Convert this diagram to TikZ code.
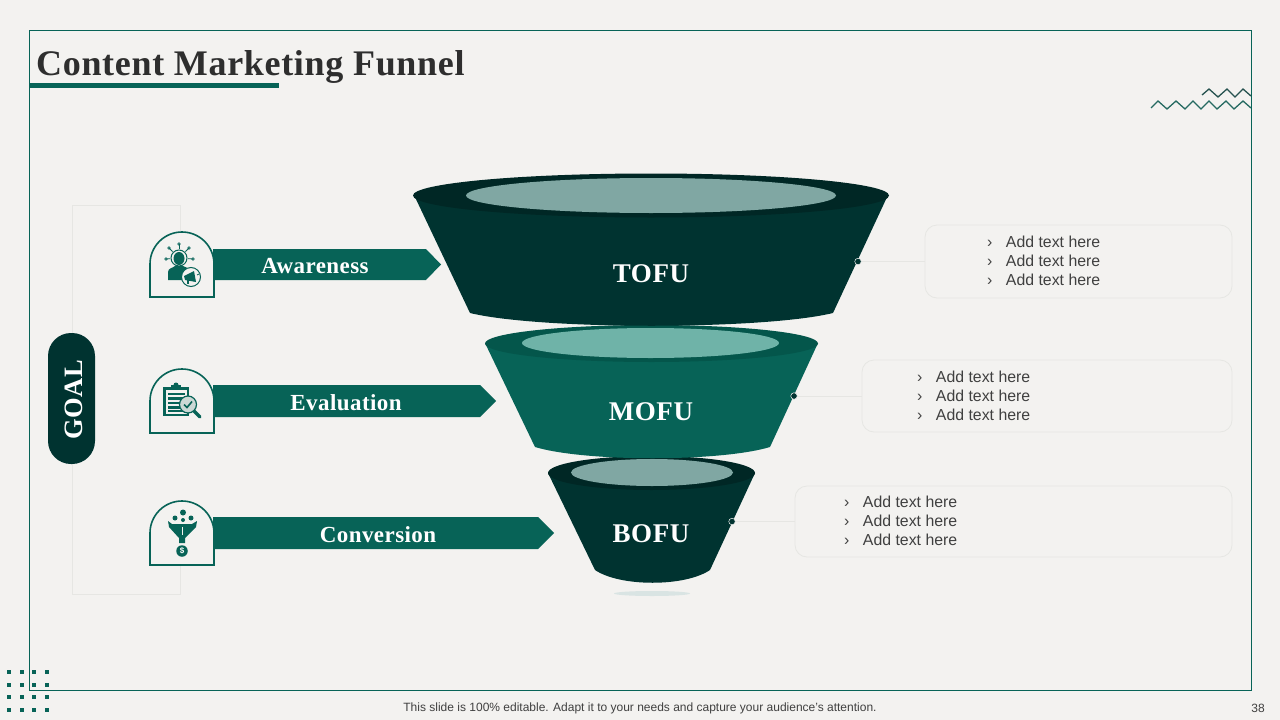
\documentclass[tikz,border=0pt]{standalone}
\usepackage{fontspec}
\setmainfont{Liberation Sans}
\newfontfamily\headfont[LetterSpace=1.9]{Liberation Serif}
\usetikzlibrary{positioning, calc}

\definecolor{pagebg}{HTML}{F3F2F0}
\definecolor{deepgreen}{HTML}{003330}
\definecolor{ringdark}{HTML}{002725}
\definecolor{midgreen}{HTML}{076357}
\definecolor{ringmid}{HTML}{04564B}
\definecolor{palegreen}{HTML}{80A7A3}
\definecolor{palemid}{HTML}{6FB3A8}
\definecolor{softline}{HTML}{E6E6E3}
\definecolor{bodytext}{HTML}{404040}

\tikzset{
  banner/.style={fill=midgreen, draw=none},
  bannertext/.style={text=white, font=\headfont\bfseries\fontsize{23}{25}\selectfont},
  funneltext/.style={text=white, font=\headfont\bfseries\fontsize{27}{29}\selectfont},
  arch/.style={draw=midgreen, line width=1.6pt, fill=pagebg},
  textbox/.style={draw=softline, line width=0.8pt, rounded corners=12pt, inner sep=0pt},
  listtext/.style={text=bodytext, align=left, inner sep=0pt, anchor=west, font=\fontsize{15.85}{19}\selectfont},
  leader/.style={draw=softline, line width=0.8pt},
  dotnode/.style={circle, fill=deepgreen, draw=pagebg, line width=0.5pt, minimum size=6.5pt, inner sep=0pt},
  iconline/.style={draw=midgreen, line width=1pt}
}

\newcommand{\addlines}[1]{#1\hspace{13.5pt}Add text here\\#1\hspace{13.5pt}Add text here\\#1\hspace{13.5pt}Add text here}

\begin{document}
\begin{tikzpicture}[x=1pt, y=-1pt]
\useasboundingbox[fill=pagebg] (0,0) rectangle (1280,720);

% frame and title
\draw[midgreen, line width=1pt] (29.5,30) rectangle (1251,690);
\node (title) at (36,67) [anchor=west, inner sep=0pt, text=black!82, font=\headfont\bfseries\fontsize{36}{38}\selectfont] {Content Marketing Funnel};
\fill[midgreen] (29.5,83) rectangle (279,87.5);

% corner marks
\draw[line width=1.3pt, draw=deepgreen!85] (1202,95) -- (1209,89) -- (1218,97) -- (1227,89) -- (1235,97) -- (1243,89) -- (1251,96);
\draw[line width=1.3pt, draw=midgreen!75!gray] (1151,108) -- (1158,101) -- (1167,109) -- (1176,101) -- (1185,109) -- (1193,101) -- (1201,109) -- (1209,101) -- (1217,109) -- (1226,101) -- (1234,109) -- (1243,101) -- (1251,108);
\foreach \x in {9,22,34,47}
  \foreach \y in {672,685,697,710}
    \fill[midgreen] (\x-2.3,\y-2.3) rectangle (\x+2.3,\y+2.3);

% goal bracket
\draw[leader] (180,232) -- (180,205) -- (72,205) -- (72,594) -- (180,594) -- (180,565);
\node (goal) at (71.5,398.5) [fill=deepgreen, rounded corners=23pt, minimum width=47pt, minimum height=131pt, inner sep=0pt] {};
\node at (73.5,399.5) [rotate=90, bannertext, font=\headfont\bfseries\fontsize{26.5}{29}\selectfont] {GOAL};

% bottom funnel
\fill[palegreen!30] (652,593.5) ellipse (38 and 2.5);
\fill[deepgreen] (548,473) -- (595,570) .. controls (620,587) and (685,587) .. (710,570) -- (755,473) -- cycle;
\fill[ringdark] (651.5,473) ellipse (103.5 and 17);
\fill[palegreen] (652,472.5) ellipse (81 and 13.5);
\node (bofu) at (651,534) [funneltext] {BOFU};

% middle funnel
\fill[midgreen] (485,343) -- (535,447) .. controls (585,462) and (720,462) .. (770,447) -- (818,343) -- cycle;
\fill[ringmid] (651.5,343.5) ellipse (166.5 and 18.5);
\fill[palemid] (650.5,343) ellipse (128.5 and 15);
\node (mofu) at (651,412) [funneltext] {MOFU};

% top funnel
\fill[deepgreen] (414,195) -- (470,313) .. controls (540,330) and (763,330) .. (833,313) -- (888,195) -- cycle;
\fill[ringdark] (651,195.5) ellipse (238 and 22);
\fill[palegreen] (651,195.5) ellipse (185 and 17.5);
\node (tofu) at (651,274) [funneltext] {TOFU};

% banners
\fill[banner] (213,249) -- (426,249) -- (441,264.5) -- (426,280) -- (213,280) -- cycle;
\fill[banner] (213,385) -- (480,385) -- (496,401) -- (480,417) -- (213,417) -- cycle;
\fill[banner] (213,517) -- (538,517) -- (554,533) -- (538,549) -- (213,549) -- cycle;
\node (aware) at (315,266) [bannertext] {Awareness};
\node (eval) at (346,402.5) [bannertext] {Evaluation};
\node (conv) at (378,534.5) [bannertext] {Conversion};

% arches
\draw[arch] (150,297) -- (150,264) arc[start angle=180, end angle=360, radius=32] -- (214,297) -- cycle;
\draw[arch] (150,433) -- (150,401) arc[start angle=180, end angle=360, radius=32] -- (214,433) -- cycle;
\draw[arch] (150,565) -- (150,533) arc[start angle=180, end angle=360, radius=32] -- (214,565) -- cycle;

% awareness icon
\foreach \a/\b in {169/248, 179/244, 189/248, 166/259, 193/259} {
  \fill[midgreen!80] (\a,\b) circle (1.9);
  \draw[midgreen, line width=0.8pt] (\a,\b) -- (179,258);
}
\fill[pagebg] (179,258) circle (9);
\draw[iconline] (179,258) circle (8);
\fill[midgreen] (179,258.5) ellipse (5.5 and 6.5);
\fill[midgreen] (168,280) -- (168,272) .. controls (168,268) and (173,268) .. (175,266) -- (183,266) .. controls (187,268) and (190,268) .. (190,272) -- (190,280) -- cycle;
\draw[midgreen, line width=1pt, fill=pagebg] (191,277) circle (9.5);
\fill[midgreen] (184,276) -- (194,271) -- (196,282) -- (185,280) -- cycle;
\fill[midgreen] (187,280) rectangle (189,284);
\draw[midgreen, line width=0.7pt] (197,275) -- (199,274);

% evaluation icon
\fill[midgreen] (163,387) rectangle (189,416);
\fill[midgreen] (171,388) rectangle (181,385);
\fill[midgreen] (176,385) circle (2.5);
\fill[pagebg] (165.5,390) rectangle (186.5,413.5);
\foreach \y in {394,398.5,403,407.5,411}
  \fill[midgreen] (167.5,\y-1.4) rectangle (184.5,\y+1);
\draw[line width=3.2pt, midgreen, line cap=round] (194,411) -- (200,417);
\draw[midgreen, line width=1.2pt, fill=palegreen!35!pagebg] (188,404.5) circle (8.5);
\draw[midgreen, line width=1.6pt] (184,404.5) -- (187,407.5) -- (192,401.5);

% conversion icon
\fill[midgreen] (183,512.5) circle (3);
\fill[midgreen] (175,518) circle (2.5);
\fill[midgreen] (191,518) circle (2.5);
\fill[midgreen] (183,520) circle (2);
\fill[midgreen] (168,521) -- (172,524) -- (192,524) -- (197,521) -- (196,527) -- (185,538) -- (185,543) -- (179,543) -- (179,538) -- (169,527) -- cycle;
\draw[pagebg, line width=0.8pt] (182,527) -- (182,535);
\node (coin) at (182,551) [circle, fill=midgreen, minimum size=11.5pt, inner sep=0pt, text=white, font=\bfseries\fontsize{8}{8}\selectfont] {\$};

% text boxes and leaders
\node (box1) at (1078.5,261.5) [textbox, minimum width=307pt, minimum height=73pt] {};
\node (box2) at (1047,396) [textbox, minimum width=370pt, minimum height=72pt] {};
\node (box3) at (1013.5,521.5) [textbox, minimum width=437pt, minimum height=71pt] {};
\node (dot1) at (858,261.5) [dotnode] {};
\node (dot2) at (794,396) [dotnode] {};
\node (dot3) at (732,521.5) [dotnode] {};
\draw[leader] (dot1) -- (box1);
\draw[leader] (dot2) -- (box2);
\draw[leader] (dot3) -- (box3);
\node (list1) at (987,260.5) [listtext] {\addlines{›}};
\node (list2) at (917,395.5) [listtext] {\addlines{›}};
\node (list3) at (844,520.5) [listtext] {\addlines{›}};

% footer
\node (foot) at (640,708) [text=bodytext, inner sep=0pt, font=\fontsize{12}{14}\selectfont] {This slide is 100\% editable. Adapt it to your needs and capture your audience's attention.};
\node (page) at (1258,708) [text=bodytext, inner sep=0pt, font=\fontsize{12}{14}\selectfont] {38};
\end{tikzpicture}
\end{document}
